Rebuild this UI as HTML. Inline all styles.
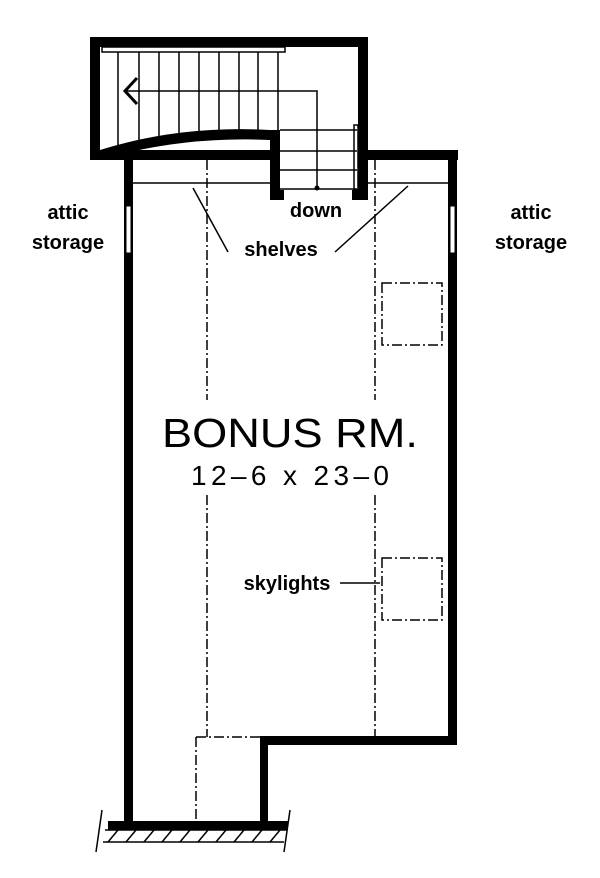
<!DOCTYPE html>
<html><head><meta charset="utf-8"><style>
html,body{margin:0;padding:0;background:#fff;}
svg{display:block}
text{font-family:"Liberation Sans",sans-serif;fill:#000}
</style></head><body>
<svg width="600" height="878" viewBox="0 0 600 878" xmlns="http://www.w3.org/2000/svg">
<g fill="#000">
<!-- stair box -->
<rect x="90" y="37" width="278" height="10"/>
<rect x="90" y="37" width="10" height="123"/>
<rect x="358" y="37" width="10" height="163"/>
<rect x="270" y="130" width="10" height="70"/>
<path d="M100 150 Q180 125 270 130 L280 130 L280 140 L270 140 Q180 136 100 160 Z"/>
<!-- room top wall -->
<rect x="90" y="150" width="190" height="10"/>
<rect x="358" y="150" width="100" height="10"/>
<rect x="270" y="190" width="14" height="10"/>
<rect x="352" y="190" width="16" height="10"/>
<!-- left wall -->
<rect x="124" y="150" width="9" height="680"/>
<!-- right wall -->
<rect x="448" y="150" width="9" height="595"/>
<rect x="260" y="736" width="197" height="9"/>
<rect x="260" y="736" width="8" height="94"/>
<rect x="108" y="821" width="180" height="9"/>
</g>
<!-- windows -->
<rect x="126" y="206" width="5" height="47" fill="#fff" stroke="#000" stroke-width="1"/>
<rect x="450" y="206" width="5" height="47" fill="#fff" stroke="#000" stroke-width="1"/>
<g stroke="#000" stroke-width="1.5" fill="none">
<!-- stair handrail top -->
<rect x="102" y="47" width="183" height="5"/>
<path d="M118 52V145M139 52V140M159 52V136M179 52V133M199 52V131M219 52V130M239 52V130M258 52V130M278 52V130"/>
<path d="M280 130H357M280 151H357M280 170H357M280 189H357"/>
<rect x="354" y="125" width="4" height="65"/>
<path d="M125 91H317V188"/>
<path d="M137 78L125 91L137 104" stroke-width="3"/>
<!-- shelves lines -->
<path d="M133 183H270M368 183H448"/>
<path d="M193 188L228 252M408 186L335 252"/>
<path d="M340 583H380"/>
</g>
<circle cx="317" cy="188" r="2.5"/>
<!-- dash-dot -->
<g stroke="#000" stroke-width="1.5" fill="none" stroke-dasharray="10 3 2 3">
<path d="M207 160V400M207 495V737M375 160V400M375 495V737"/>
<rect x="382" y="283" width="60" height="62"/>
<rect x="382" y="558" width="60" height="62"/>
<path d="M196 737V821M196 737H260"/>
</g>
<!-- hatch -->
<g stroke="#000" stroke-width="1.5" fill="none">
<path d="M105 830H287M103 842H284M102 810L96 852M290 810L284 852"/>
<path d="M108 842L118 830M126 842L136 830M144 842L154 830M162 842L172 830M180 842L190 830M198 842L208 830M216 842L226 830M234 842L244 830M252 842L262 830M270 842L280 830"/>
</g>
<g font-weight="bold" font-size="20">
<text x="68" y="219" text-anchor="middle">attic</text>
<text x="68" y="249" text-anchor="middle">storage</text>
<text x="531" y="219" text-anchor="middle">attic</text>
<text x="531" y="249" text-anchor="middle">storage</text>
<text x="316" y="217" text-anchor="middle">down</text>
<text x="281" y="256" text-anchor="middle">shelves</text>
<text x="287" y="590" text-anchor="middle">skylights</text>
</g>
<text x="290" y="447" text-anchor="middle" font-size="41" textLength="256" lengthAdjust="spacingAndGlyphs">BONUS RM.</text>
<text x="290" y="485" text-anchor="middle" font-size="28" textLength="198" lengthAdjust="spacing">12–6  x  23–0</text>
</svg>
</body></html>
